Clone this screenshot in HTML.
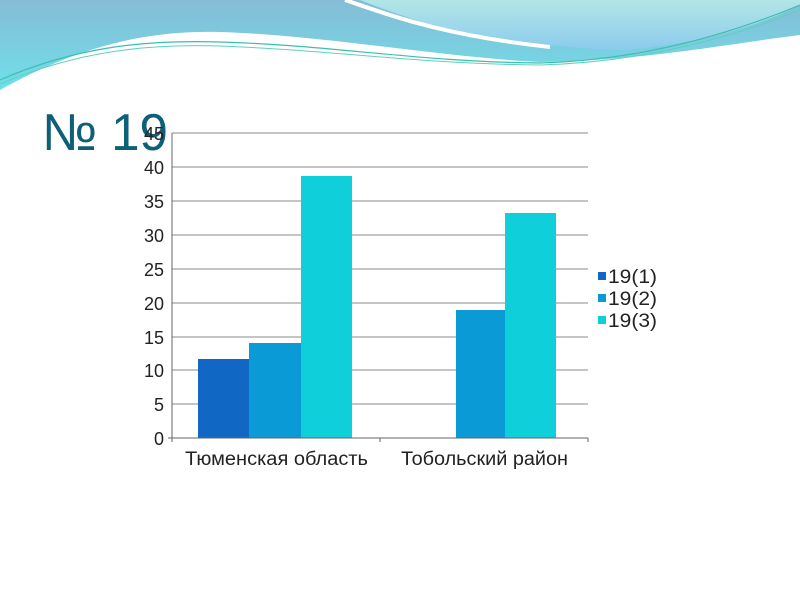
<!DOCTYPE html>
<html><head><meta charset="utf-8"><style>
body{margin:0;background:#fff;}
svg text{font-family:"Liberation Sans",sans-serif;}
</style></head><body>
<svg width="800" height="600" xmlns="http://www.w3.org/2000/svg">
<defs>
<linearGradient id="g1" x1="0" y1="0" x2="0" y2="1"><stop offset="0" stop-color="#86bcd6"/><stop offset="1" stop-color="#6fdfe9"/></linearGradient>
<linearGradient id="g2" x1="0" y1="0" x2="0" y2="1"><stop offset="0" stop-color="#b2e6e6"/><stop offset="1" stop-color="#8ccbee"/></linearGradient>
</defs>
<path d="M0,0 H800 V35 C720,45 650,60 540,62 C450,58 320,35 220,32 C150,30 80,45 0,90 Z" fill="url(#g1)"/>
<path d="M360,0 H800 V5 C760,25 700,45 620,50 C560,48 500,40 430,25 C400,15 380,8 360,0 Z" fill="url(#g2)"/>
<path d="M345,0 C390,15 440,35 550,47" stroke="#fff" stroke-width="4" fill="none"/>
<path d="M0,80 C80,45 150,40 220,42 C330,45 420,62 540,63 C650,60 740,30 800,5" stroke="#3bbfb0" stroke-width="1.2" fill="none"/>
<path d="M0,84 C80,50 150,44 220,46 C330,50 420,64 540,65 C650,62 740,34 800,10" stroke="#5fd0c0" stroke-width="1" fill="none"/>
<text x="42" y="150" font-size="52" fill="#0e5f78" textLength="126" lengthAdjust="spacingAndGlyphs">№ 19</text>
<g stroke="#888" stroke-width="1">
<line x1="172" y1="133" x2="588" y2="133"/><line x1="172" y1="167" x2="588" y2="167"/>
<line x1="172" y1="201" x2="588" y2="201"/><line x1="172" y1="235" x2="588" y2="235"/>
<line x1="172" y1="269" x2="588" y2="269"/><line x1="172" y1="303" x2="588" y2="303"/>
<line x1="172" y1="337" x2="588" y2="337"/><line x1="172" y1="370" x2="588" y2="370"/>
<line x1="172" y1="404" x2="588" y2="404"/>
</g>
<rect x="198" y="359" width="51" height="79" fill="#1068c4"/>
<rect x="249" y="343" width="52" height="95" fill="#0a9ad6"/>
<rect x="301" y="176" width="51" height="262" fill="#0fd0da"/>
<rect x="456" y="310" width="49" height="128" fill="#0a9ad6"/>
<rect x="505" y="213" width="51" height="225" fill="#0fd0da"/>
<line x1="172" y1="133" x2="172" y2="442" stroke="#666"/>
<line x1="168" y1="438" x2="588" y2="438" stroke="#666"/>
<line x1="380" y1="438" x2="380" y2="442" stroke="#666"/><line x1="588" y1="438" x2="588" y2="442" stroke="#666"/>
<g font-size="18" fill="#222" text-anchor="end">
<text x="164" y="140">45</text><text x="164" y="174">40</text><text x="164" y="208">35</text>
<text x="164" y="242">30</text><text x="164" y="276">25</text><text x="164" y="310">20</text>
<text x="164" y="344">15</text><text x="164" y="377">10</text><text x="164" y="411">5</text><text x="164" y="445">0</text>
</g>
<g font-size="19" fill="#222">
<text x="185" y="465" textLength="183" lengthAdjust="spacingAndGlyphs">Тюменская область</text>
<text x="401" y="465" textLength="167" lengthAdjust="spacingAndGlyphs">Тобольский район</text>
</g>
<rect x="598" y="272" width="8" height="8" fill="#1068c4"/>
<rect x="598" y="294" width="8" height="8" fill="#0a9ad6"/>
<rect x="598" y="316" width="8" height="8" fill="#0fd0da"/>
<g font-size="19" fill="#222"><text x="608" y="283" textLength="49" lengthAdjust="spacingAndGlyphs">19(1)</text><text x="608" y="305" textLength="49" lengthAdjust="spacingAndGlyphs">19(2)</text><text x="608" y="327" textLength="49" lengthAdjust="spacingAndGlyphs">19(3)</text></g>
</svg>
</body></html>
